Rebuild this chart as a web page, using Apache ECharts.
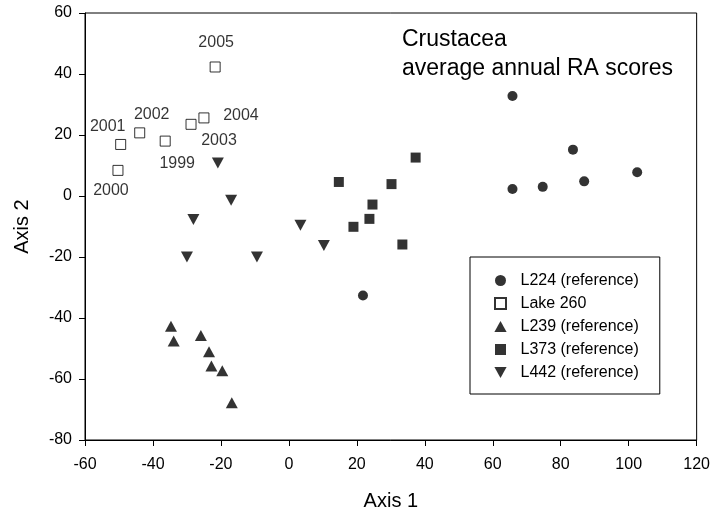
<!DOCTYPE html>
<html>
<head>
<meta charset="utf-8">
<script src="https://cdn.jsdelivr.net/npm/echarts@6/dist/echarts.min.js"></script>
<style>
html,body{margin:0;padding:0;background:#fff;}
#chart{width:713px;height:516px;}
</style>
</head>
<body>
<div id="chart"></div>
<script>
// ---- data ----
var seriesNames = ['L224 (reference)', 'Lake 260', 'L239 (reference)', 'L373 (reference)', 'L442 (reference)'];
var l224 = [[65.8, 32.8], [83.6, 15.2], [102.5, 7.8], [86.9, 4.8], [74.7, 3.0], [65.8, 2.3], [21.8, -32.6]];
var lake260 = [[-36.4, 18.0], [-50.3, 8.4], [-49.5, 16.9], [-43.9, 20.7], [-28.8, 23.5], [-25.0, 25.6], [-21.7, 42.3]];
var lake260Years = ['1999', '2000', '2001', '2002', '2003', '2004', '2005'];
var l239 = [[-34.7, -42.7], [-33.9, -47.5], [-25.9, -45.7], [-23.5, -51.1], [-22.8, -55.7], [-19.6, -57.3], [-16.8, -67.8]];
var l373 = [[37.3, 12.6], [14.7, 4.6], [30.2, 3.9], [24.6, -2.8], [23.7, -7.5], [19.0, -10.1], [33.4, -15.9]];
var l442 = [[-20.9, 10.8], [-17.0, -1.4], [-28.1, -7.7], [3.4, -9.6], [10.3, -16.2], [-30.0, -20.0], [-9.4, -20.0]];
var xTicks = [-60, -40, -20, 0, 20, 40, 60, 80, 100, 120];
var yTicks = [-80, -60, -40, -20, 0, 20, 40, 60];
var titleLines = ['Crustacea', 'average annual RA scores'];
var axisNames = ['Axis 1', 'Axis 2'];

// ---- label placement for year labels (styling, not data) ----
var yearOffsets = {
  '1999': [12, 22], '2000': [-7, 20], '2001': [-13, -18], '2002': [12, -18],
  '2003': [28, 16], '2004': [37, -2], '2005': [1, -24]
};

var FONT = 'Liberation Sans, Arial, Helvetica, sans-serif';
var chart = echarts.init(document.getElementById('chart'), null, {renderer: 'canvas'});

var lakeData = lake260.map(function (p, i) {
  var yr = lake260Years[i];
  return {
    value: p,
    label: {
      show: true,
      formatter: yr,
      position: 'inside',
      offset: yearOffsets[yr],
      color: '#000',
      textBorderWidth: 0,
      fontSize: 16,
      fontFamily: FONT
    }
  };
});

var downTri = 'path://M0,0 L10,0 L5,9 Z';
var upTri = 'path://M5,0 L10,9 L0,9 Z';
var square = 'path://M0,0 L10,0 L10,10 L0,10 Z';

var option = {
  animation: false,
  backgroundColor: '#fff',
  textStyle: {fontFamily: FONT, color: '#000'},
  title: {
    text: titleLines.join('\n'),
    left: 397,
    top: 20,
    textStyle: {fontSize: 23, fontWeight: 'normal', color: '#000', fontFamily: FONT, lineHeight: 29}
  },
  grid: {
    left: 85, top: 13, width: 614, height: 427,
    show: true, borderColor: '#000', borderWidth: 1, backgroundColor: 'transparent'
  },
  legend: {
    orient: 'vertical',
    left: 470,
    top: 257,
    padding: [15, 21, 13, 24],
    itemWidth: 30,
    itemHeight: 11,
    itemGap: 6,
    borderColor: '#000',
    borderWidth: 1,
    backgroundColor: '#fff',
    textStyle: {fontSize: 16, color: '#000', fontFamily: FONT, lineHeight: 17},
    data: seriesNames
  },
  xAxis: {
    type: 'value', min: xTicks[0], max: xTicks[xTicks.length - 1], interval: 20,
    name: axisNames[0], nameLocation: 'middle', nameGap: 51,
    nameTextStyle: {fontSize: 20, color: '#000', fontFamily: FONT},
    axisLine: {show: true, onZero: false, lineStyle: {color: '#000', width: 1}},
    axisTick: {show: true, inside: false, length: 6, lineStyle: {color: '#000'}},
    axisLabel: {fontSize: 16, color: '#000', margin: 17, fontFamily: FONT},
    splitLine: {show: false}
  },
  yAxis: {
    type: 'value', min: yTicks[0], max: yTicks[yTicks.length - 1], interval: 20,
    name: axisNames[1], nameLocation: 'middle', nameGap: 53, nameRotate: 90,
    nameTextStyle: {fontSize: 20, color: '#000', fontFamily: FONT},
    axisLine: {show: true, onZero: false, lineStyle: {color: '#000', width: 1}},
    axisTick: {show: true, inside: false, length: 6, lineStyle: {color: '#000'}},
    axisLabel: {fontSize: 16, color: '#000', margin: 13, fontFamily: FONT},
    splitLine: {show: false}
  },
  series: [
    {name: seriesNames[0], type: 'scatter', symbol: 'circle', symbolSize: 10,
     itemStyle: {color: '#000'}, data: l224},
    {name: seriesNames[1], type: 'scatter', symbol: square, symbolSize: 10,
     itemStyle: {color: '#fff', borderColor: '#000', borderWidth: 1}, data: lakeData, z: 3},
    {name: seriesNames[2], type: 'scatter', symbol: upTri, symbolSize: [12, 11],
     itemStyle: {color: '#000'}, data: l239},
    {name: seriesNames[3], type: 'scatter', symbol: square, symbolSize: 10,
     itemStyle: {color: '#000'}, data: l373},
    {name: seriesNames[4], type: 'scatter', symbol: downTri, symbolSize: [12, 11],
     itemStyle: {color: '#000'}, data: l442}
  ]
};
chart.setOption(option);
</script>
</body>
</html>
